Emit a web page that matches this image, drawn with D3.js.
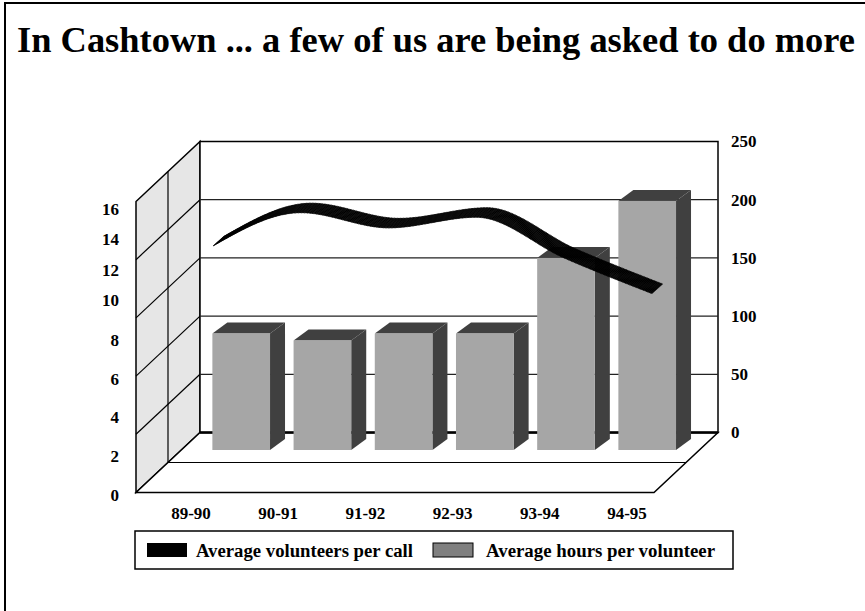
<!DOCTYPE html>
<html>
<head>
<meta charset="utf-8">
<script src="https://cdn.jsdelivr.net/npm/d3@7"></script>
<style>
  html, body { margin: 0; padding: 0; background: #fff; }
  svg { display: block; font-family: "Liberation Serif", "Times New Roman", serif; font-weight: bold; }
</style>
</head>
<body>
<svg id="chart" width="865" height="611"></svg>
<script>
// ---- data -------------------------------------------------------------
const title = "In Cashtown ... a few of us are being asked to do more";
const categories = ["89-90", "90-91", "91-92", "92-93", "93-94", "94-95"];
const hoursPerVolunteer = [100, 94, 100, 100, 165, 214];      // bars, right axis
const volunteersPerCall = [9.7, 11.8, 10.8, 11.5, 9.1, 7.3];   // ribbon, left axis
const leftTicks = [0, 2, 4, 6, 8, 10, 12, 14, 16];
const rightTicks = [0, 50, 100, 150, 200, 250];
const seriesNames = ["Average volunteers per call", "Average hours per volunteer"];

// ---- layout -----------------------------------------------------------
const svg = d3.select("#chart");
const wallX0 = 200, wallX1 = 718;          // back wall left / right
const depth = [-64, 60];                    // wall / floor depth (oblique)
const barDepth = [15, -11];                 // extrusion of each bar
const barShift = 17.5;                      // bars stand this far in front of the back wall
const ribbonDepth = [10.6, -9.5];           // extrusion of the ribbon

const yR = d3.scaleLinear().domain([0, 250]).range([432.5, 141.5]);
// left axis labels sit on the front edge of the side wall
const yLeft = d3.scaleLinear().domain([0, 8, 10, 16]).range([495, 340, 300, 209]);
const xBand = d3.scaleBand().domain(categories).range([200.6, 687.8])
  .paddingInner(0.29).paddingOuter(0.145);
const xLine = d3.scalePoint().domain(categories).range([213, 652]);
const xLabel = d3.scalePoint().domain(categories).range([191, 627]);

// page frame
svg.append("rect").attr("x", 5).attr("y", 3).attr("width", 900).attr("height", 700)
  .attr("fill", "#fff").attr("stroke", "#000").attr("stroke-width", 2);

// title
svg.append("text").attr("x", 17).attr("y", 52)
  .attr("font-size", 35).attr("textLength", 838).attr("lengthAdjust", "spacingAndGlyphs")
  .text(title);

const y0 = yR(0), yTop = yR(250);
const pt = p => p.join(",");

// side wall
svg.append("polygon")
  .attr("points", [[wallX0, yTop], [wallX0, y0], [wallX0 + depth[0], y0 + depth[1]], [wallX0 + depth[0], yTop + depth[1]]].map(pt).join(" "))
  .attr("fill", "#e6e6e6").attr("stroke", "#000").attr("stroke-width", 1.5);
svg.append("g").selectAll("line").data(rightTicks.slice(1, -1)).join("line")
  .attr("x1", wallX0).attr("y1", d => yR(d))
  .attr("x2", wallX0 + depth[0]).attr("y2", d => yR(d) + depth[1])
  .attr("stroke", "#000").attr("stroke-width", 1.2);
svg.append("line")
  .attr("x1", wallX0 + depth[0] / 2).attr("y1", yTop + depth[1] / 2)
  .attr("x2", wallX0 + depth[0] / 2).attr("y2", y0 + depth[1] / 2)
  .attr("stroke", "#000").attr("stroke-width", 1.2);

// floor
svg.append("polygon")
  .attr("points", [[wallX0, y0], [wallX1, y0], [wallX1 + depth[0], y0 + depth[1]], [wallX0 + depth[0], y0 + depth[1]]].map(pt).join(" "))
  .attr("fill", "#fff").attr("stroke", "#000").attr("stroke-width", 1.5);
svg.append("line")
  .attr("x1", wallX0 + depth[0] / 2).attr("y1", y0 + depth[1] / 2)
  .attr("x2", wallX1 + depth[0] / 2).attr("y2", y0 + depth[1] / 2)
  .attr("stroke", "#000").attr("stroke-width", 1.2);

// back wall with gridlines
svg.append("rect").attr("x", wallX0).attr("y", yTop)
  .attr("width", wallX1 - wallX0).attr("height", y0 - yTop)
  .attr("fill", "#fff").attr("stroke", "#000").attr("stroke-width", 1.5);
svg.append("g").selectAll("line").data(rightTicks.slice(1, -1)).join("line")
  .attr("x1", wallX0).attr("x2", wallX1)
  .attr("y1", d => yR(d)).attr("y2", d => yR(d))
  .attr("stroke", "#222").attr("stroke-width", 1.2);
svg.append("line").attr("x1", wallX0).attr("x2", wallX1).attr("y1", y0).attr("y2", y0)
  .attr("stroke", "#000").attr("stroke-width", 2.5);

// bars
const bars = svg.append("g").selectAll("g").data(categories).join("g");
bars.each(function (c, i) {
  const g = d3.select(this);
  const x = xBand(c), w = xBand.bandwidth();
  const top = yR(hoursPerVolunteer[i]) + barShift, bottom = y0 + barShift;
  const [dx, dy] = barDepth;
  g.append("polygon")
    .attr("points", [[x + w, top], [x + w + dx, top + dy], [x + w + dx, bottom + dy], [x + w, bottom]].map(pt).join(" "))
    .attr("fill", "#404040");
  g.append("polygon")
    .attr("points", [[x, top], [x + dx, top + dy], [x + w + dx, top + dy], [x + w, top]].map(pt).join(" "))
    .attr("fill", "#404040");
  g.append("rect").attr("x", x).attr("y", top).attr("width", w).attr("height", bottom - top)
    .attr("fill", "#a6a6a6");
});

// ribbon: the curve swept along the depth vector
const ribbonPts = categories.map((c, i) => [xLine(c), yLeft(volunteersPerCall[i]) - depth[1]]);
const guide = svg.append("path").attr("d", d3.line().curve(d3.curveMonotoneX)(ribbonPts)).attr("fill", "none");
const len = guide.node().getTotalLength();
const steps = Math.ceil(len / 1.5);
const front = d3.range(steps + 1).map(k => {
  const p = guide.node().getPointAtLength(len * k / steps);
  return [p.x, p.y];
});
guide.remove();
const quads = d3.pairs(front).map(([a, b]) => [a, b,
  [b[0] + ribbonDepth[0], b[1] + ribbonDepth[1]],
  [a[0] + ribbonDepth[0], a[1] + ribbonDepth[1]]]);
svg.append("g").selectAll("polygon").data(quads).join("polygon")
  .attr("points", d => d.map(pt).join(" "))
  .attr("fill", "#000").attr("stroke", "#000").attr("stroke-width", 0.6).attr("stroke-linejoin", "round");

// axes labels
svg.append("g").selectAll("text").data(leftTicks).join("text")
  .attr("x", 119).attr("y", d => yLeft(d)).attr("dy", "0.35em")
  .attr("text-anchor", "end").attr("font-size", 17).text(d => d);
svg.append("g").selectAll("text").data(rightTicks).join("text")
  .attr("x", 731).attr("y", d => yR(d)).attr("dy", "0.35em")
  .attr("font-size", 17).text(d => d);
svg.append("g").selectAll("text").data(categories).join("text")
  .attr("x", d => xLabel(d)).attr("y", 519)
  .attr("text-anchor", "middle").attr("font-size", 17).text(d => d);

// legend
const lg = svg.append("g");
lg.append("rect").attr("x", 135).attr("y", 531).attr("width", 598).attr("height", 38)
  .attr("fill", "#fff").attr("stroke", "#000").attr("stroke-width", 1.5);
const swatches = [
  { x: 147, fill: "#000", stroke: "none", tx: 196, tw: 217 },
  { x: 433, fill: "#808080", stroke: "#000", tx: 486, tw: 229 }
];
swatches.forEach((s, i) => {
  lg.append("rect").attr("x", s.x).attr("y", 543).attr("width", 40).attr("height", 14)
    .attr("fill", s.fill).attr("stroke", s.stroke).attr("stroke-width", 1);
  lg.append("text").attr("x", s.tx).attr("y", 557).attr("font-size", 18.5)
    .attr("textLength", s.tw).attr("lengthAdjust", "spacingAndGlyphs").text(seriesNames[i]);
});
</script>
</body>
</html>
